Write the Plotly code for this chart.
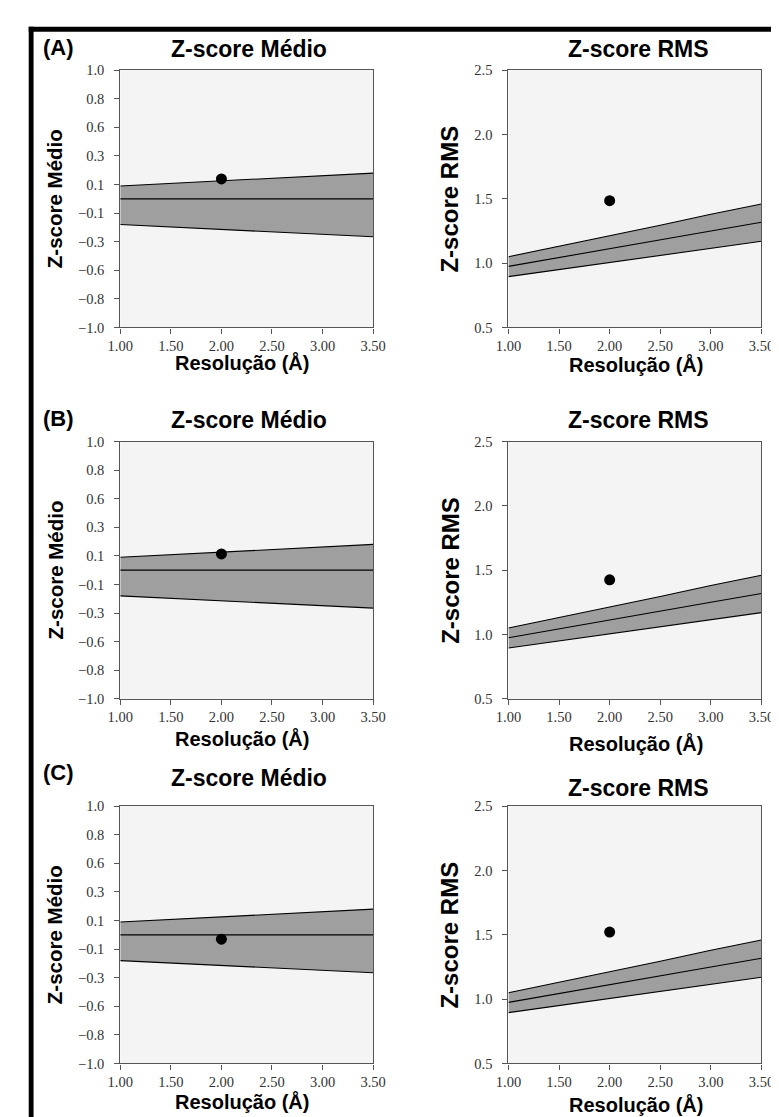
import numpy as np
import plotly.graph_objects as go

# ---------------- data ----------------
resolution = [1.0, 1.5, 2.0, 2.5, 3.0, 3.5]

medio_upper = [0.10, 0.12, 0.14, 0.16, 0.18, 0.20]
medio_center = [0.0, 0.0, 0.0, 0.0, 0.0, 0.0]
medio_lower = [-0.20, -0.22, -0.24, -0.255, -0.275, -0.295]

rms_upper = [1.05, 1.13, 1.21, 1.295, 1.38, 1.46]
rms_center = [0.975, 1.045, 1.11, 1.18, 1.25, 1.318]
rms_lower = [0.895, 0.95, 1.005, 1.06, 1.115, 1.17]

point_resolution = [2.0, 2.0, 2.0]
medio_points = [0.155, 0.126, -0.034]
rms_points = [1.486, 1.425, 1.522]

panel_labels = ["(A)", "(B)", "(C)"]
medio_title = "Z-score Médio"
rms_title = "Z-score RMS"
x_title = "Resolução (Å)"

x_ticks = [1.0, 1.5, 2.0, 2.5, 3.0, 3.5]
medio_ticktext = ["−1.0", "−0.8", "−0.6", "−0.3", "−0.1", "0.1", "0.3", "0.6", "0.8", "1.0"]
rms_ticks = [0.5, 1.0, 1.5, 2.0, 2.5]
rms_ticktext = ["0.5", "1.0", "1.5", "2.0", "2.5"]

# ---------------- layout geometry (pixels) ----------------
W, H = 779, 1117
col_x = [(102.7, 364.3), (504.3, 766.0)]
row_y = [(55.0, 316.0), (431.7, 692.7), (801.7, 1062.7)]

def px(x):
    return x / W

def py(y):
    return 1 - y / H

SANS = "Liberation Sans, Arial, sans-serif"
SERIF = "Liberation Serif, Times New Roman, serif"
BAND = "#9f9f9f"
BG = "#f4f4f4"
AX = "#555555"

fig = go.Figure()
layout = dict(
    width=W, height=H, autosize=False,
    margin=dict(l=0, r=0, t=0, b=0),
    paper_bgcolor="white", plot_bgcolor=BG,
    showlegend=False,
)

annotations = []
medio_tickvals = list(np.linspace(-1, 1, 10))

for r in range(3):
    for c in range(2):
        idx = r * 2 + c + 1
        xa = "x" if idx == 1 else f"x{idx}"
        ya = "y" if idx == 1 else f"y{idx}"
        xkey = "xaxis" if idx == 1 else f"xaxis{idx}"
        ykey = "yaxis" if idx == 1 else f"yaxis{idx}"
        if c == 0:
            up, ce, lo, pts = medio_upper, medio_center, medio_lower, medio_points
        else:
            up, ce, lo, pts = rms_upper, rms_center, rms_lower, rms_points
        fig.add_trace(go.Scatter(x=resolution, y=lo, mode="lines",
                                 line=dict(color="black", width=1.1),
                                 xaxis=xa, yaxis=ya, hoverinfo="skip"))
        fig.add_trace(go.Scatter(x=resolution, y=up, mode="lines",
                                 line=dict(color="black", width=1.1),
                                 fill="tonexty", fillcolor=BAND,
                                 xaxis=xa, yaxis=ya, hoverinfo="skip"))
        fig.add_trace(go.Scatter(x=resolution, y=ce, mode="lines",
                                 line=dict(color="black", width=1.1),
                                 xaxis=xa, yaxis=ya, hoverinfo="skip"))
        fig.add_trace(go.Scatter(x=[point_resolution[r]], y=[pts[r]], mode="markers",
                                 marker=dict(color="black", size=11),
                                 xaxis=xa, yaxis=ya))

        x0, x1 = col_x[c]
        y0, y1 = row_y[r]
        layout[xkey] = dict(
            domain=[px(x0), px(x1)], anchor=ya, range=[1.0, 3.5],
            tickvals=x_ticks, tickformat=".2f",
            ticks="outside", ticklen=5, tickcolor=AX, tickwidth=1,
            showline=True, linecolor=AX, linewidth=1.2, mirror=True,
            showgrid=False, zeroline=False,
            tickfont=dict(family=SERIF, size=14.5, color="#333333"),
        )
        if c == 0:
            yt = dict(range=[-1, 1], tickvals=medio_tickvals, ticktext=medio_ticktext)
        else:
            yt = dict(range=[0.5, 2.5], tickvals=rms_ticks, ticktext=rms_ticktext)
        layout[ykey] = dict(
            domain=[py(y1), py(y0)], anchor=xa,
            ticks="outside", ticklen=5, tickcolor=AX, tickwidth=1,
            ticklabelstandoff=7,
            showline=True, linecolor=AX, linewidth=1.2, mirror=True,
            showgrid=False, zeroline=False,
            tickfont=dict(family=SERIF, size=14.5, color="#333333"),
            **yt,
        )

# ---------------- text annotations (pixel-positioned) ----------------
def ann(text, x, y, size, angle=0):
    annotations.append(dict(
        text=text, x=px(x), y=py(y), xref="paper", yref="paper",
        xanchor="center", yanchor="middle", showarrow=False, textangle=angle,
        font=dict(family=SANS, size=size, color="black"),
    ))

title_y = [(33.3, 33.3), (410.0, 410.0), (773.3, 783.3)]
xtitle_y = [(352.0, 353.5), (733.5, 738.5), (1101.0, 1104.0)]
label_y = [31.7, 408.3, 768.0]

for r in range(3):
    ann("<b>" + panel_labels[r] + "</b>", 39, label_y[r], 22)
    ann("<b>" + medio_title + "</b>", 235.8, title_y[r][0], 23)
    ann("<b>" + rms_title + "</b>", 639.2, title_y[r][1], 23)
    ann("<b>" + x_title + "</b>", 228.5, xtitle_y[r][0], 20)
    ann("<b>" + x_title + "</b>", 636.0, xtitle_y[r][1], 20)
    ymid = (row_y[r][0] + row_y[r][1]) / 2
    ann("<b>" + medio_title + "</b>", 35.5, ymid, 20.5, -90)
    ann("<b>" + rms_title + "</b>", 443.5, ymid, 24, -90)

layout["annotations"] = annotations

# outer frame (left and top only, image is cropped)
layout["shapes"] = [
    dict(type="rect", xref="paper", yref="paper",
         x0=px(8), x1=px(13), y0=0, y1=py(11), fillcolor="black", line=dict(width=0)),
    dict(type="rect", xref="paper", yref="paper",
         x0=px(8), x1=1, y0=py(16), y1=py(11), fillcolor="black", line=dict(width=0)),
]

fig.update_layout(**layout)
fig.write_html("out.html")
